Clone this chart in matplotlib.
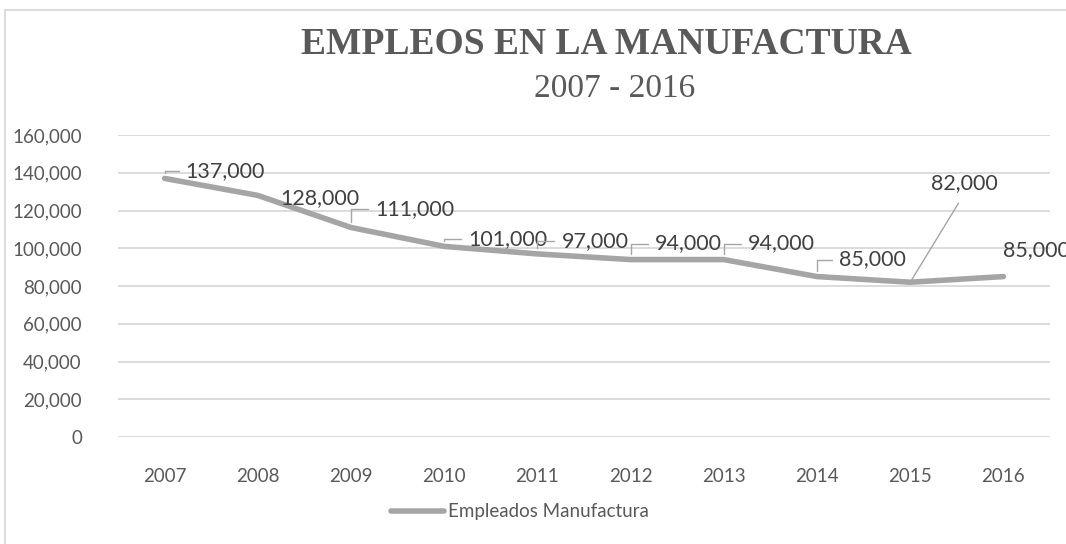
import matplotlib.pyplot as plt
from matplotlib.patches import Rectangle
from matplotlib.ticker import FuncFormatter

# ============================================
# Data
# ============================================
years = ['2007', '2008', '2009', '2010', '2011', '2012', '2013', '2014', '2015', '2016']
empleados = [137000, 128000, 111000, 101000, 97000, 94000, 94000, 85000, 82000, 85000]
series_name = 'Empleados Manufactura'

# label placement (offset pixels from point, left edge / vertical centre) and leader style
label_dx = [21, 22, 24, 24, 24, 24, 24, 22, 21, 0]
label_dy = [7, -3, 18, 7, 13, 16, 16, 17, 99, 26]
leader = ['angle', None, 'angle', 'angle', 'angle', 'angle', 'angle', 'angle', 'straight', None]

# ============================================
# Figure
# ============================================
W, H = 1066, 544
fig = plt.figure(figsize=(W / 100, H / 100), dpi=100)
ax = fig.add_axes([118 / W, 1 - 437 / H, (1050 - 118) / W, (437 - 135) / H])

text_col = '#595959'
grid_col = '#D9D9D9'
line_col = '#A5A5A5'
sans = 'Lato'
serif = 'Liberation Serif'

x = list(range(len(years)))
ax.plot(x, empleados, color=line_col, lw=4, solid_joinstyle='round',
        solid_capstyle='round', zorder=3)

ax.set_xlim(-0.5, len(years) - 0.5)
ax.set_ylim(0, 160000)
ax.set_yticks(range(0, 160001, 20000))
ax.yaxis.set_major_formatter(FuncFormatter(lambda v, p: f'{int(v):,}'))
ax.set_xticks(x)
ax.set_xticklabels(years)
ax.grid(axis='y', color=grid_col, lw=1.3)
ax.set_axisbelow(True)
for s in ax.spines.values():
    s.set_visible(False)
ax.tick_params(length=0, labelcolor=text_col, labelsize=13.5)
ax.tick_params(axis='y', pad=26)
ax.tick_params(axis='x', pad=22)
for lab in ax.get_xticklabels() + ax.get_yticklabels():
    lab.set_fontfamily(sans)

# data labels
for i, v in enumerate(empleados):
    if leader[i] == 'angle':
        ap = dict(arrowstyle='-', color=line_col, lw=1, relpos=(0, 0.5),
                  connectionstyle='angle,angleA=0,angleB=90,rad=0',
                  shrinkA=3, shrinkB=4)
    elif leader[i] == 'straight':
        ap = dict(arrowstyle='-', color=line_col, lw=1, relpos=(0.5, 0),
                  shrinkA=6, shrinkB=2)
    else:
        ap = None
    ax.annotate(f'{v:,}', xy=(i, v), xytext=(label_dx[i], label_dy[i]),
                textcoords='offset pixels', ha='left', va='center', fontsize=15.5,
                color='#404040', family=sans, arrowprops=ap,
                annotation_clip=False, zorder=4)

# titles
fig.text(606 / W, 1 - 45 / H, 'EMPLEOS EN LA MANUFACTURA', ha='center', va='center',
         fontsize=27, fontweight='bold', color=text_col, family=serif)
fig.text(615 / W, 1 - 89 / H, '2007 - 2016', ha='center', va='center',
         fontsize=24, color=text_col, family=serif)

# legend
leg = fig.legend([ax.lines[0]], [series_name], loc='center',
                 bbox_to_anchor=(520 / W, 1 - 512 / H), frameon=False,
                 handlelength=2.8, handletextpad=0.2,
                 prop={'family': sans, 'size': 13.5})
for t in leg.get_texts():
    t.set_color(text_col)

# chart border
fig.add_artist(Rectangle((5 / W, -0.1), 1.2, (H - 10) / H + 0.1,
                         transform=fig.transFigure, fill=False,
                         ec=grid_col, lw=1.3))

fig.savefig('out.png', dpi=100)
